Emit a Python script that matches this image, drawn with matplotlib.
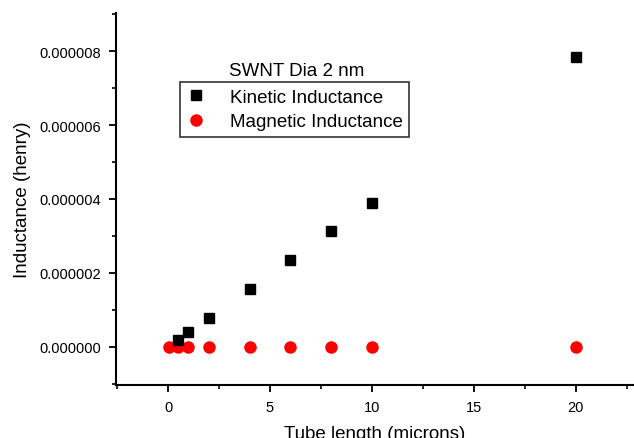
import matplotlib
matplotlib.use("Agg")
import matplotlib.pyplot as plt
from matplotlib.ticker import MultipleLocator, FormatStrFormatter

plt.rcParams['font.family'] = ['Liberation Sans', 'DejaVu Sans']

# Tube length in microns
kinetic_len = [0.5, 1, 2, 4, 6, 8, 10, 20]
kinetic_L = [0.20e-6, 0.39e-6, 0.78e-6, 1.57e-6, 2.35e-6, 3.13e-6, 3.90e-6, 7.84e-6]

magnetic_len = [0.05, 0.5, 1, 2, 4, 6, 8, 10, 20]
magnetic_L = [0.0, 0.0, 0.0, 0.0, 0.0, 0.0, 0.0, 0.0, 0.0]

fig = plt.figure(figsize=(6.34, 4.39), dpi=100)
ax = fig.add_axes([116/634, 1-386/439, 1-116/634, (386-14)/439])

ax.plot(kinetic_len, kinetic_L, linestyle='none', marker='s', markersize=7.5,
        color='black', label='Kinetic Inductance', zorder=3)
ax.plot(magnetic_len, magnetic_L, linestyle='none', marker='o', markersize=9,
        color='#ff0000', markeredgewidth=0, label='Magnetic Inductance', zorder=2)

ax.set_xlim(-2.55, 22.85)
ax.set_ylim(-1.03e-6, 9.03e-6)

ax.xaxis.set_major_locator(MultipleLocator(5))
ax.xaxis.set_minor_locator(MultipleLocator(2.5))
ax.yaxis.set_major_locator(MultipleLocator(2e-6))
ax.yaxis.set_minor_locator(MultipleLocator(1e-6))
ax.yaxis.set_major_formatter(FormatStrFormatter('%.6f'))

for side in ('top', 'right'):
    ax.spines[side].set_visible(False)
for side in ('left', 'bottom'):
    ax.spines[side].set_linewidth(1.5)

ax.tick_params(which='major', direction='out', length=5, width=1.3, labelsize=10.5, pad=6)
ax.tick_params(which='minor', direction='out', length=3, width=1.2)

ax.set_xlabel('Tube length (microns)', fontsize=13.5, labelpad=8)
ax.set_ylabel('Inductance (henry)', fontsize=13.5, labelpad=6)

leg = fig.legend(loc='upper left', bbox_to_anchor=(180/634, 1-83/439), borderaxespad=0,
                 fontsize=13.5, frameon=True, fancybox=False, edgecolor='black',
                 handlelength=1.0, handletextpad=1.3, borderpad=0.35, labelspacing=0.4,
                 numpoints=1)
leg.get_frame().set_linewidth(1.2)

fig.text(297/634, 1-72/439, 'SWNT Dia 2 nm', ha='center', va='center', fontsize=13.5)

fig.savefig('out.png', dpi=100)
